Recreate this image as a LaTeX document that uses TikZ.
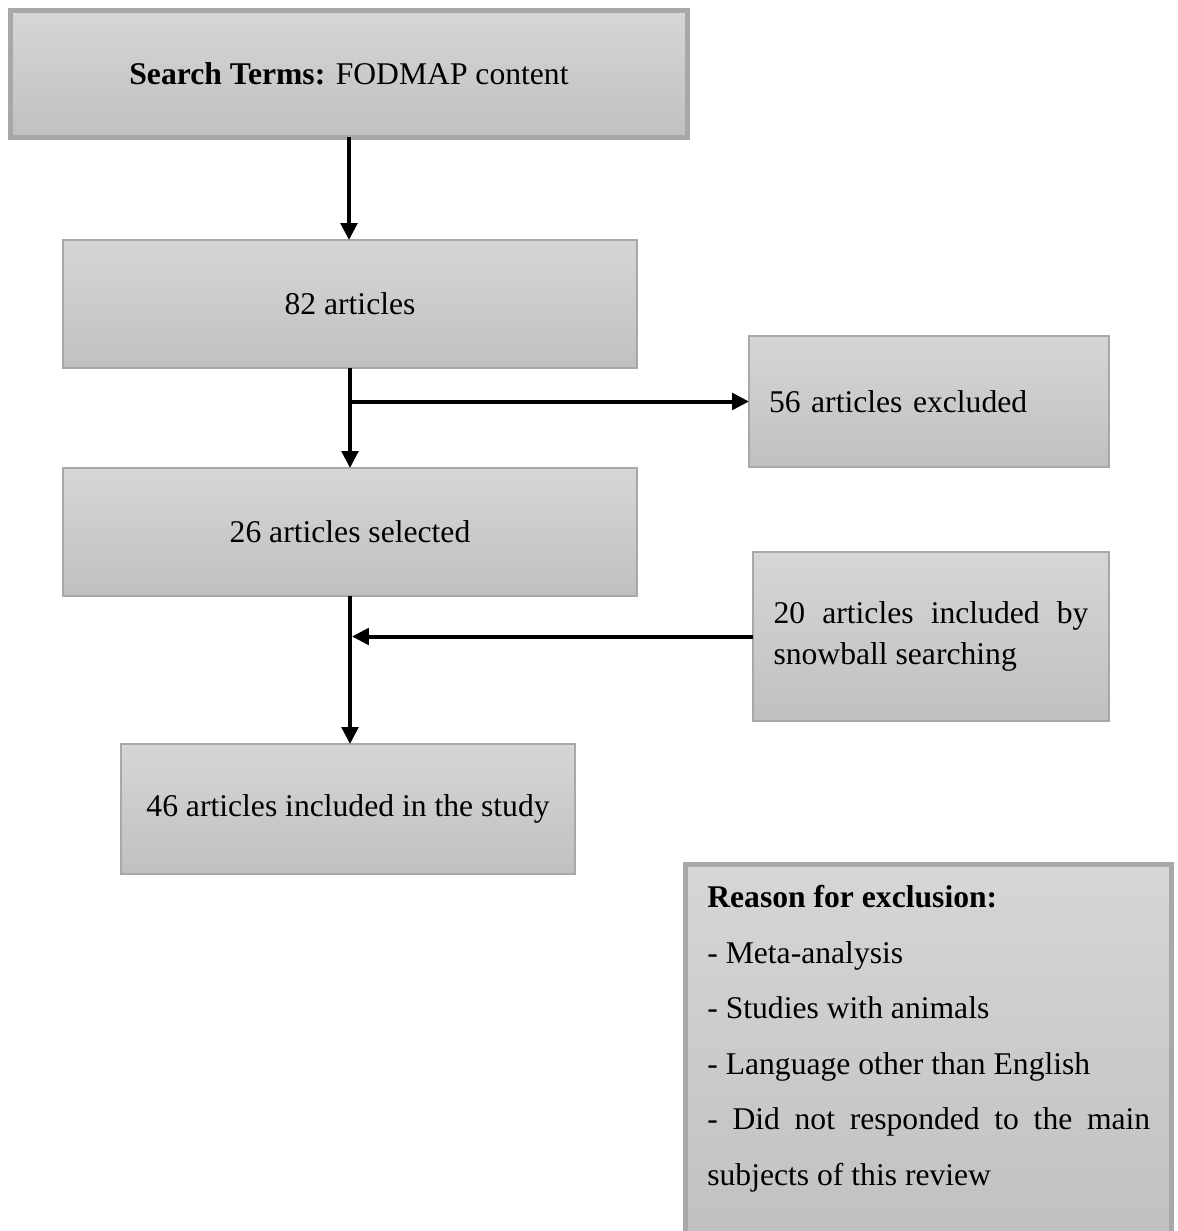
\documentclass[tikz,border=0pt]{standalone}
\usepackage{fontspec}
\setmainfont{Liberation Serif}
\usetikzlibrary{arrows.meta}
\definecolor{boxtop}{HTML}{D6D6D6}
\definecolor{boxbot}{HTML}{C0C0C0}
\definecolor{boxline}{HTML}{A8A8A8}
\tikzset{
	stepbox/.style={draw=boxline, line width=0.4mm, top color=boxtop, bottom color=boxbot, inner sep=0pt, outer sep=0pt, font=\fontsize{18}{23.3}\selectfont},
	thickbox/.style={stepbox, line width=1mm},
	flow/.style={line width=0.8mm, -{Triangle[length=3.4mm,width=3.3mm]}}
}
\begin{document}
\begin{tikzpicture}[x=0.02cm, y=-0.02cm]
			%%%%% START %%%%%
			
			\useasboundingbox (0, 0) rectangle (1177, 1231);
			
			\node[thickbox, minimum width=13.54cm, minimum height=2.54cm] (search) at (349, 74) {\textbf{Search Terms:} FODMAP content};
			\node[stepbox, minimum width=11.48cm, minimum height=2.56cm] (found) at (350, 304) {82 articles};
			\node[stepbox, minimum width=7.2cm, minimum height=2.62cm, text width=6.4cm, align=left] (excluded) at (929, 401.5) {56 articles excluded};
			\node[stepbox, minimum width=11.48cm, minimum height=2.56cm] (selected) at (350, 532) {26 articles selected};
			\node[stepbox, minimum width=7.12cm, minimum height=3.38cm, text width=6.3cm, align=justify] (snowball) at (931, 636.5) {20 articles included by snowball searching};
			\node[stepbox, minimum width=9.08cm, minimum height=2.6cm] (included) at (348, 809) {46 articles included in the study};
			
			\node[thickbox, minimum width=9.72cm, minimum height=7.7cm, anchor=north] (reason) at (928.5, 864.5) {};
			\node[anchor=north west, inner sep=0pt, text width=8.86cm, align=justify, font=\fontsize{18}{31.6}\selectfont] (reasontext) at (707, 885) {\textbf{Reason for exclusion:}\\
				- Meta-analysis\\
				- Studies with animals\\
				- Language other than English\\
				- Did not responded to the main subjects of this review};
			
			\draw[flow] (search.south) -- (search.south |- found.north);
			\draw[flow] (found.south) -- (selected.north);
			\draw[flow] (found.south |- excluded.west) -- (excluded.west);
			\draw[flow] (selected.south) -- (selected.south |- included.north);
			\draw[flow] (snowball.west) -- ([xshift=0.4mm]selected.south |- snowball.west);
			
			%%%%% END %%%%%
\end{tikzpicture}
\end{document}
